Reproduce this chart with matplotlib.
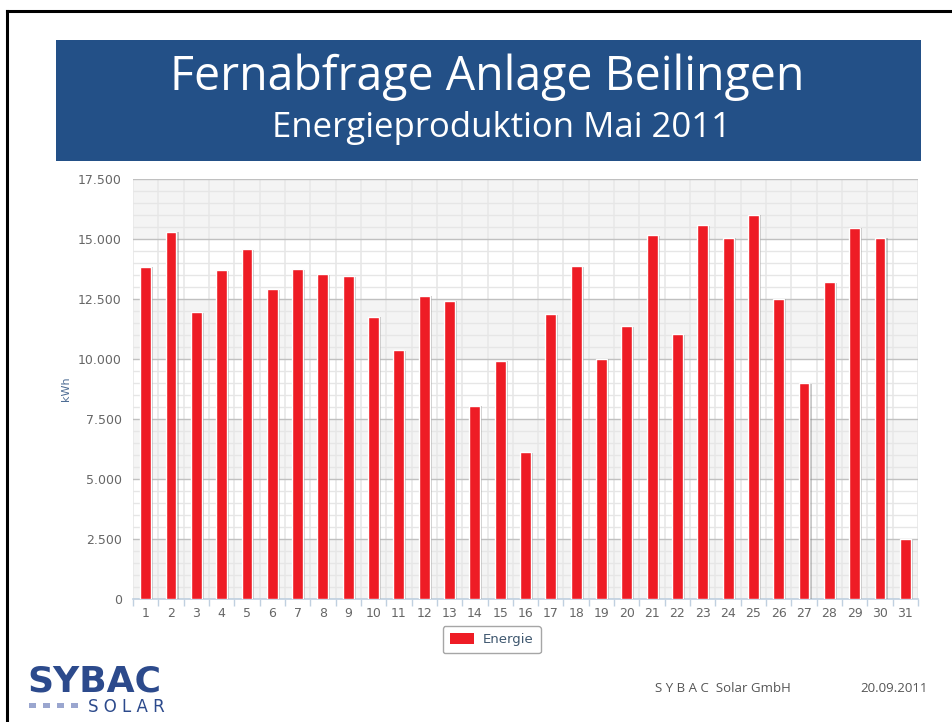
import numpy as np
import matplotlib
matplotlib.use("Agg")
import matplotlib.pyplot as plt
from matplotlib import patheffects
from matplotlib.patches import Rectangle
from matplotlib.ticker import FuncFormatter, MultipleLocator

# data
days = list(range(1, 32))
energie = [13850, 15300, 11950, 13700, 14580, 12900, 13750, 13540, 13460, 11760,
           10375, 12640, 12430, 8050, 9930, 6120, 11875, 13875, 10010, 11370,
           15150, 11030, 15570, 15060, 16010, 12510, 8990, 13190, 15470, 15060, 2490]
y_ticks = [0, 2500, 5000, 7500, 10000, 12500, 15000, 17500]

title = "Fernabfrage Anlage Beilingen"
subtitle = "Energieproduktion Mai 2011"

W, H = 953, 722
fig = plt.figure(figsize=(W / 100, H / 100), dpi=100)

# slide border (top + left)
fig.add_artist(plt.Line2D([7 / W, 1], [1 - 11 / H, 1 - 11 / H], color='black', lw=2.2))
fig.add_artist(plt.Line2D([7 / W, 7 / W], [0, 1 - 11 / H], color='black', lw=2.2))

# blue title box
fig.add_artist(Rectangle((56 / W, 1 - 161 / H), (921 - 56) / W, 121 / H,
                         facecolor='#235087', edgecolor='none', transform=fig.transFigure))
fig.text(487 / W, 1 - 77 / H, title, color='white', fontsize=33.5, family='Open Sans',
         ha='center', va='center')
fig.text(502 / W, 1 - 128 / H, subtitle, color='white', fontsize=25, family='Open Sans',
         ha='center', va='center')

# chart
ax = fig.add_axes([133 / W, 1 - 599 / H, (918 - 133) / W, 420 / H])
ax.set_xlim(0.5, 31.5)
ax.set_ylim(0, 17500)

# alternating bands
for i, lo in enumerate(y_ticks[:-1]):
    if i % 2 == 0:
        ax.axhspan(lo, lo + 2500, color='#f4f4f4', zorder=0, lw=0)

ax.yaxis.set_major_locator(MultipleLocator(2500))
ax.yaxis.set_minor_locator(MultipleLocator(500))
ax.set_xticks(np.arange(0.5, 32, 1), minor=True)
ax.set_xticks(days)
ax.grid(which='minor', axis='y', color='#e6e6e6', lw=1, zorder=1)
ax.grid(which='major', axis='y', color='#c0c0c0', lw=1, zorder=1)
ax.grid(which='minor', axis='x', color='#e8e8e8', lw=1.2, zorder=1)
ax.set_axisbelow(True)

shadow = [patheffects.SimplePatchShadow(offset=(1.5, -0.5), shadow_rgbFace='#888888', alpha=0.45),
          patheffects.Normal()]
bars = ax.bar(days, energie, width=0.43, color='#ee1c25', edgecolor='white', lw=1.0,
              zorder=3, label='Energie')
for b in bars:
    b.set_path_effects(shadow)

for s in ['top', 'right', 'left']:
    ax.spines[s].set_visible(False)
ax.spines['bottom'].set_color('#c0d0e0')
ax.spines['bottom'].set_linewidth(1.2)

ax.tick_params(axis='x', which='major', length=0, labelsize=9, labelcolor='#666666', pad=6)
ax.tick_params(axis='x', which='minor', length=5, color='#c0d0e0', width=1)
ax.tick_params(axis='y', which='both', length=0, labelsize=9, labelcolor='#666666', pad=8)
ax.yaxis.set_major_formatter(FuncFormatter(lambda v, p: f"{int(v):,}".replace(',', '.')))
ax.set_ylabel('kWh', color='#4d6c94', fontsize=8, labelpad=5)

# legend
leg = ax.legend(loc='upper center', bbox_to_anchor=(0.457, -0.064), frameon=True,
                fontsize=9.5, handlelength=1.8, handleheight=0.9, handletextpad=0.7,
                borderpad=0.55, borderaxespad=0, fancybox=True)
leg.get_frame().set_edgecolor('#909090')
leg.get_frame().set_linewidth(1)
for t in leg.get_texts():
    t.set_color('#3e576f')
for h in leg.legend_handles:
    h.set_path_effects([])
    h.set_edgecolor('none')

# footer
fig.text(27 / W, 1 - 691 / H, 'SYBAC', color='#2c4a8c', fontsize=26, fontweight='bold',
         family='DejaVu Sans', ha='left', va='baseline')
fig.text(88 / W, 1 - 712 / H, 'S O L A R', color='#2c4a8c', fontsize=12,
         family='DejaVu Sans', ha='left', va='baseline')
for k in range(4):
    fig.add_artist(Rectangle(((29 + k * 14) / W, 1 - 708 / H), 7 / W, 5 / H,
                             facecolor='#9aa6cf', edgecolor='none', transform=fig.transFigure))
fig.text(655 / W, 1 - 688 / H, 'S Y B A C  Solar GmbH', color='#555555', fontsize=9.5,
         family='Open Sans', ha='left', va='center')
fig.text(928 / W, 1 - 688 / H, '20.09.2011', color='#555555', fontsize=9.5,
         family='Open Sans', ha='right', va='center')

fig.savefig('out.png', dpi=100)
